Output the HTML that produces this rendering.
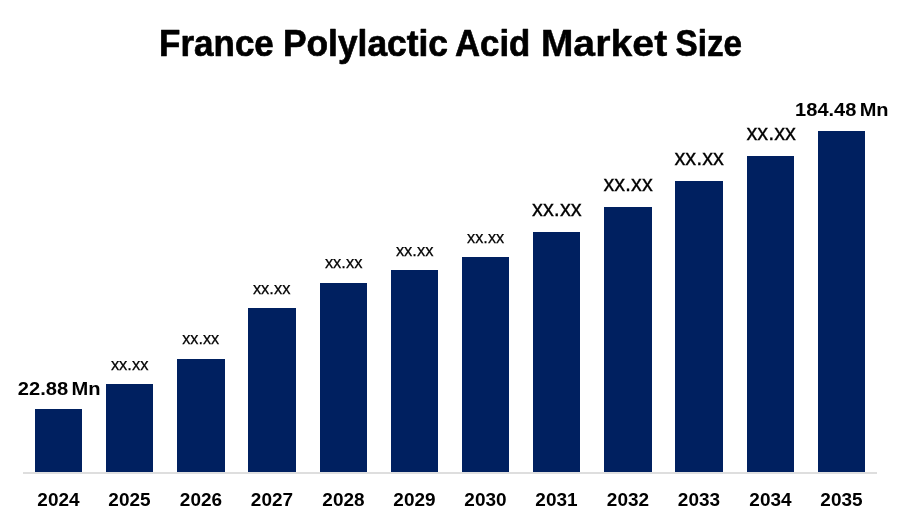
<!DOCTYPE html>
<html lang="en">
<head>
<meta charset="utf-8">
<title>France Polylactic Acid Market Size</title>
<style>
html,body{margin:0;padding:0;background:#fff;}
body{width:900px;height:525px;overflow:hidden;}
svg{display:block;}
text{font-family:"Liberation Sans",sans-serif;fill:#000;}
.t{font-weight:bold;font-size:37.4px;stroke:#000;stroke-width:0.7px;stroke-linejoin:round;}
.y{font-weight:bold;font-size:17.9px;}
.v{font-weight:bold;font-size:17.6px;word-spacing:-2px;}
.s{font-size:16.7px;stroke:#000;stroke-width:0.25px;}
.l{font-size:22.0px;stroke:#000;stroke-width:0.3px;}
</style>
</head>
<body>
<svg width="900" height="525" viewBox="0 0 900 525">
<rect x="0" y="0" width="900" height="525" fill="#ffffff"/>
<rect x="23" y="472" width="854" height="2" fill="#dedede"/>
<rect x="35" y="409" width="47" height="63" fill="#002060"/>
<rect x="106" y="384" width="47" height="88" fill="#002060"/>
<rect x="177" y="359" width="48" height="113" fill="#002060"/>
<rect x="248" y="308" width="48" height="164" fill="#002060"/>
<rect x="320" y="283" width="47" height="189" fill="#002060"/>
<rect x="391" y="270" width="47" height="202" fill="#002060"/>
<rect x="462" y="257" width="47" height="215" fill="#002060"/>
<rect x="533" y="232" width="47" height="240" fill="#002060"/>
<rect x="604" y="207" width="48" height="265" fill="#002060"/>
<rect x="675" y="181" width="48" height="291" fill="#002060"/>
<rect x="747" y="156" width="47" height="316" fill="#002060"/>
<rect x="818" y="131" width="47" height="341" fill="#002060"/>
<text class="t" x="159.10" y="56" textLength="114.73" lengthAdjust="spacingAndGlyphs">France</text>
<text class="t" x="282.92" y="56" textLength="165.08" lengthAdjust="spacingAndGlyphs">Polylactic</text>
<text class="t" x="455.00" y="56" textLength="75.35" lengthAdjust="spacingAndGlyphs">Acid</text>
<text class="t" style="stroke-width:0.4px" x="540.67" y="56" textLength="126.62" lengthAdjust="spacingAndGlyphs">Market</text>
<text class="t" x="675.58" y="56" textLength="66.50" lengthAdjust="spacingAndGlyphs">Size</text>
<text class="y" x="37.35" y="506" textLength="42.22" lengthAdjust="spacingAndGlyphs">2024</text>
<text class="y" x="108.35" y="506" textLength="42.22" lengthAdjust="spacingAndGlyphs">2025</text>
<text class="y" x="179.85" y="506" textLength="42.22" lengthAdjust="spacingAndGlyphs">2026</text>
<text class="y" x="250.85" y="506" textLength="42.22" lengthAdjust="spacingAndGlyphs">2027</text>
<text class="y" x="322.35" y="506" textLength="42.22" lengthAdjust="spacingAndGlyphs">2028</text>
<text class="y" x="393.35" y="506" textLength="42.22" lengthAdjust="spacingAndGlyphs">2029</text>
<text class="y" x="464.35" y="506" textLength="42.22" lengthAdjust="spacingAndGlyphs">2030</text>
<text class="y" x="535.35" y="506" textLength="42.22" lengthAdjust="spacingAndGlyphs">2031</text>
<text class="y" x="606.85" y="506" textLength="42.22" lengthAdjust="spacingAndGlyphs">2032</text>
<text class="y" x="677.85" y="506" textLength="42.22" lengthAdjust="spacingAndGlyphs">2033</text>
<text class="y" x="749.35" y="506" textLength="42.22" lengthAdjust="spacingAndGlyphs">2034</text>
<text class="y" x="820.35" y="506" textLength="42.22" lengthAdjust="spacingAndGlyphs">2035</text>
<text class="s" x="110.88" y="370" textLength="37.57" lengthAdjust="spacingAndGlyphs">xx.xx</text>
<text class="s" x="182.14" y="344.2" textLength="37.06" lengthAdjust="spacingAndGlyphs">xx.xx</text>
<text class="s" x="252.89" y="293.9" textLength="37.52" lengthAdjust="spacingAndGlyphs">xx.xx</text>
<text class="s" x="324.89" y="267.9" textLength="37.52" lengthAdjust="spacingAndGlyphs">xx.xx</text>
<text class="s" x="395.89" y="256" textLength="37.52" lengthAdjust="spacingAndGlyphs">xx.xx</text>
<text class="s" x="467.10" y="242.9" textLength="37.05" lengthAdjust="spacingAndGlyphs">xx.xx</text>
<text class="l" x="532.09" y="215.9" textLength="49.62" lengthAdjust="spacingAndGlyphs">xx.xx</text>
<text class="l" x="603.45" y="191" textLength="49.33" lengthAdjust="spacingAndGlyphs">xx.xx</text>
<text class="l" x="674.45" y="164.9" textLength="49.46" lengthAdjust="spacingAndGlyphs">xx.xx</text>
<text class="l" x="746.45" y="140.1" textLength="49.46" lengthAdjust="spacingAndGlyphs">xx.xx</text>
<text class="v" x="17.79" y="394.9" textLength="82.69" lengthAdjust="spacingAndGlyphs">22.88 Mn</text>
<text class="v" x="795.13" y="115.7" textLength="93.44" lengthAdjust="spacingAndGlyphs">184.48 Mn</text>
</svg>
</body>
</html>
